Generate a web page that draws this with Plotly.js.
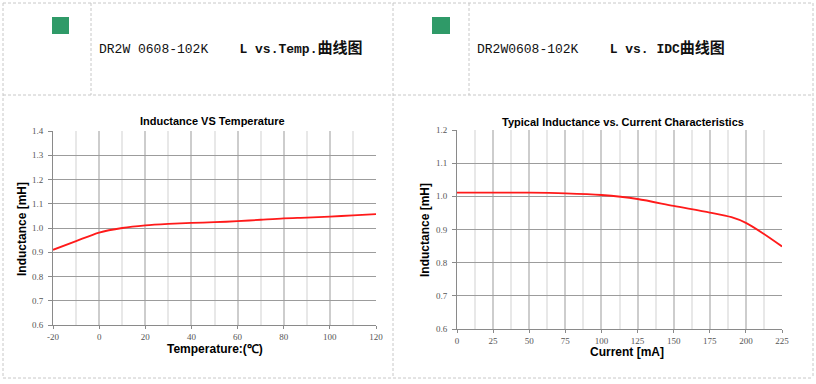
<!DOCTYPE html>
<html>
<head>
<meta charset="utf-8">
<script src="https://cdn.plot.ly/plotly-3.0.1.min.js"></script>
<style>
html,body{margin:0;padding:0;background:#fff;}
#chart{width:816px;height:384px;}
</style>
</head>
<body>
<div id="chart"></div>
<script>
// Left chart: Inductance vs Temperature
const tempX = [-20, -10, 0, 10, 20, 30, 40, 50, 60, 70, 80, 90, 100, 110, 120];
const tempL = [0.91, 0.946, 0.981, 1.0, 1.011, 1.017, 1.021, 1.024, 1.028, 1.034, 1.04, 1.043, 1.047, 1.052, 1.057];
const tempTicks = [-20, 0, 20, 40, 60, 80, 100, 120];

// Right chart: Inductance vs Current
const curX = [0, 25, 50, 75, 100, 125, 150, 175, 190, 200, 212, 225];
const curL = [1.011, 1.011, 1.011, 1.009, 1.004, 0.992, 0.971, 0.951, 0.937, 0.92, 0.888, 0.849];
const curTicks = [0, 25, 50, 75, 100, 125, 150, 175, 200, 225];

const yTicksLeft = [0.6, 0.7, 0.8, 0.9, 1.0, 1.1, 1.2, 1.3, 1.4];
const yTicksRight = [0.6, 0.7, 0.8, 0.9, 1.0, 1.1, 1.2];

const titles = {
  headLeft: 'DR2W 0608-102K\u00a0\u00a0\u00a0\u00a0<b>L vs.Temp.<span style="font-size:15px">曲线图</span></b>',
  headRight: 'DR2W0608-102K\u00a0\u00a0\u00a0\u00a0<b>L vs. IDC<span style="font-size:15px">曲线图</span></b>',
  chartLeft: 'Inductance VS Temperature',
  chartRight: 'Typical Inductance vs. Current Characteristics',
  yLeft: 'Inductance [mH]',
  yRight: 'Inductance [mH]',
  xLeft: 'Temperature:(℃)',
  xRight: 'Current [mA]'
};

const W = 816, H = 384;
const px = v => v / W;
const py = v => 1 - v / H;

const tickFont = {family: 'Liberation Serif, DejaVu Serif, serif', size: 9, color: '#555'};
const boldFont = s => ({family: 'Liberation Sans, Arial, sans-serif', size: s, color: '#000', weight: 'bold'});

function xAxisCfg(domain, range, ticks, minorStep) {
  return {
    domain: domain, range: range, tickvals: ticks, ticktext: ticks.map(String),
    showgrid: true, gridcolor: '#cdcdcd', gridwidth: 2,
    minor: {dtick: minorStep, showgrid: true, gridcolor: '#e8e8e8', gridwidth: 2, ticks: ''},
    showline: true, linecolor: '#8a8a8a', linewidth: 1,
    ticks: 'outside', ticklen: 3, tickcolor: '#8a8a8a',
    tickfont: tickFont, zeroline: false, fixedrange: true,
    ticklabelstandoff: 0
  };
}
function yAxisCfg(domain, range, ticks) {
  return {
    domain: domain, range: range, tickvals: ticks, ticktext: ticks.map(v => v.toFixed(1)),
    showgrid: true, gridcolor: '#9c9c9c', gridwidth: 1,
    showline: true, linecolor: '#8a8a8a', linewidth: 1,
    ticks: 'outside', ticklen: 4, tickcolor: '#8a8a8a',
    tickfont: tickFont, zeroline: false, fixedrange: true,
    ticklabelstandoff: 3
  };
}

const traces = [
  {x: tempX, y: tempL, xaxis: 'x', yaxis: 'y', mode: 'lines',
   line: {color: '#ff1a1a', width: 1.8, shape: 'spline', smoothing: 0.8}, hoverinfo: 'skip'},
  {x: curX, y: curL, xaxis: 'x2', yaxis: 'y2', mode: 'lines',
   line: {color: '#ff1a1a', width: 1.8, shape: 'spline', smoothing: 0.8}, hoverinfo: 'skip'}
];

const dash = {color: '#c8c8c8', width: 1, dash: '3px,2px'};
const hLine = (y, x0, x1) => ({type: 'line', xref: 'paper', yref: 'paper', x0: px(x0), x1: px(x1), y0: py(y), y1: py(y), line: dash});
const vLine = (x, y0, y1) => ({type: 'line', xref: 'paper', yref: 'paper', x0: px(x), x1: px(x), y0: py(y0), y1: py(y1), line: dash});

const shapes = [
  hLine(3, 3, 813), hLine(95, 3, 813), hLine(378, 3, 813),
  vLine(3, 3, 378), vLine(91, 3, 95), vLine(393, 3, 378), vLine(469, 3, 95), vLine(813, 3, 378),
  {type: 'rect', xref: 'paper', yref: 'paper', x0: px(52), x1: px(69), y0: py(34), y1: py(17),
   fillcolor: '#2f9a68', line: {width: 0}},
  {type: 'rect', xref: 'paper', yref: 'paper', x0: px(432), x1: px(450), y0: py(34), y1: py(17),
   fillcolor: '#2f9a68', line: {width: 0}}
];

const ann = (text, x, y, font, opts) => Object.assign({
  text: text, xref: 'paper', yref: 'paper', x: px(x), y: py(y), showarrow: false, font: font,
  xanchor: 'center', yanchor: 'middle'
}, opts || {});

const headFont = {family: 'Liberation Mono, DejaVu Sans Mono, Noto Sans CJK SC, monospace', size: 13, color: '#111'};

const annotations = [
  ann(titles.headLeft, 97, 48, headFont, {xanchor: 'left'}),
  ann(titles.headRight, 475, 48, headFont, {xanchor: 'left'}),
  ann(titles.chartLeft, 212, 121, boldFont(11)),
  ann(titles.chartRight, 623, 122, boldFont(11)),
  ann(titles.yLeft, 22, 229, boldFont(12), {textangle: -90}),
  ann(titles.yRight, 425, 230, boldFont(12), {textangle: -90}),
  ann(titles.xLeft, 215, 349, boldFont(12)),
  ann(titles.xRight, 627, 352, boldFont(12))
];

const layout = {
  width: W, height: H,
  margin: {l: 0, r: 0, t: 0, b: 0, pad: 0},
  paper_bgcolor: '#fff', plot_bgcolor: '#fff',
  showlegend: false, hovermode: false,
  xaxis: xAxisCfg([px(53), px(376)], [-20, 120], tempTicks, 10),
  yaxis: yAxisCfg([py(325), py(131)], [0.6, 1.4], yTicksLeft),
  xaxis2: Object.assign(xAxisCfg([px(457), px(782)], [0, 225], curTicks, 12.5), {anchor: 'y2'}),
  yaxis2: Object.assign(yAxisCfg([py(329), py(130)], [0.6, 1.2], yTicksRight), {anchor: 'x2'}),
  shapes: shapes,
  annotations: annotations
};
layout.xaxis.anchor = 'y';
layout.yaxis.anchor = 'x';

Plotly.newPlot('chart', traces, layout, {staticPlot: true, displayModeBar: false});
</script>
</body>
</html>
